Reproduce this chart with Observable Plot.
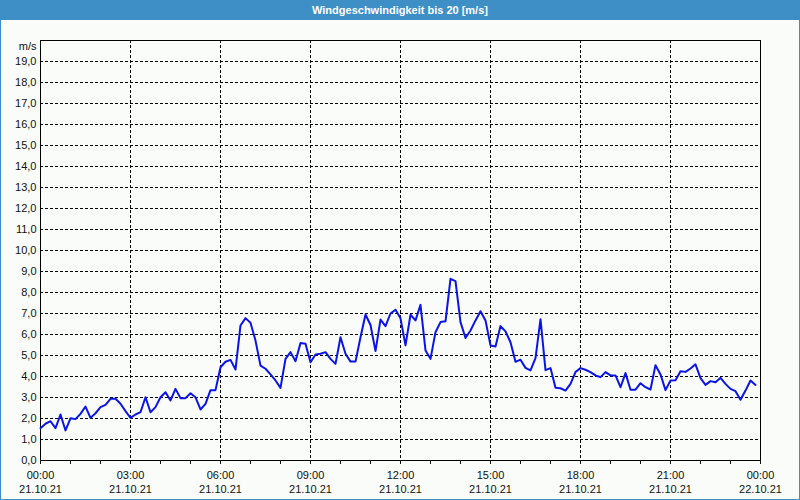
<!DOCTYPE html>
<html><head><meta charset="utf-8">
<script src="https://cdn.jsdelivr.net/npm/d3@7"></script>
<script src="https://cdn.jsdelivr.net/npm/@observablehq/plot@0.6"></script>
<style>
html,body{margin:0;padding:0;background:#fff;}
#wrap{position:relative;width:798px;height:499px;border:1px solid #3d8fc6;border-top:none;background:#f9fcf9;font-family:"Liberation Sans",Arial,sans-serif;overflow:hidden;}
#title{height:20px;line-height:20px;background:#3d8fc6;color:#fff;font-weight:bold;font-size:11px;text-align:center;}
#chart svg{display:block;}
</style></head><body>
<div id="wrap"><div id="title">Windgeschwindigkeit bis 20 [m/s]</div><div id="chart"></div></div>
<script>
// Wind speed readings every 10 minutes, 21.10.21 00:00 – 23:50
const startTime = Date.UTC(2021, 9, 21, 0, 0);
const endTime = Date.UTC(2021, 9, 22, 0, 0);
const stepMinutes = 10;
const windSpeed = [
  1.54, 1.75, 1.87, 1.54, 2.19, 1.43, 2.01, 1.97, 2.22, 2.57, 2.03, 2.25,
  2.54, 2.65, 2.94, 2.94, 2.70, 2.35, 2.03, 2.19, 2.30, 3.01, 2.30, 2.54,
  3.01, 3.25, 2.86, 3.41, 2.97, 2.97, 3.20, 3.01, 2.43, 2.70, 3.35, 3.35,
  4.44, 4.70, 4.79, 4.33, 6.43, 6.78, 6.56, 5.71, 4.52, 4.37, 4.10, 3.81,
  3.46, 4.84, 5.16, 4.73, 5.59, 5.56, 4.68, 5.05, 5.08, 5.16, 4.84, 4.60,
  5.87, 5.08, 4.71, 4.71, 5.87, 6.95, 6.45, 5.21, 6.71, 6.40, 7.00, 7.18,
  6.77, 5.48, 6.94, 6.67, 7.41, 5.24, 4.84, 6.11, 6.59, 6.63, 8.65, 8.54,
  6.59, 5.83, 6.19, 6.67, 7.11, 6.67, 5.48, 5.43, 6.40, 6.15, 5.63, 4.70,
  4.80, 4.41, 4.29, 4.88, 6.73, 4.30, 4.40, 3.46, 3.44, 3.33, 3.65, 4.21,
  4.40, 4.32, 4.21, 4.05, 3.97, 4.21, 4.05, 4.05, 3.49, 4.16, 3.37, 3.37,
  3.68, 3.49, 3.38, 4.54, 4.10, 3.35, 3.81, 3.82, 4.25, 4.22, 4.38, 4.58,
  3.92, 3.60, 3.78, 3.73, 3.94, 3.65, 3.41, 3.30, 2.89, 3.33, 3.81, 3.60
];
const yTicks = [0,1,2,3,4,5,6,7,8,9,10,11,12,13,14,15,16,17,18,19];
const yGrid = [1,2,3,4,5,6,7,8,9,10,11,12,13,14,15,16,17,18,19];
const yUnit = "m/s";
const majorTickHours = [0, 3, 6, 9, 12, 15, 18, 21, 24];
const minorTickHours = [0,1,2,3,4,5,6,7,8,9,10,11,12,13,14,15,16,17,18,19,20,21,22,23,24];
const gridHours = [3, 6, 9, 12, 15, 18, 21];

const hourDate = h => new Date(startTime + h * 3600e3);
const data = windSpeed.map((v, i) => ({time: new Date(startTime + i * stepMinutes * 60e3), v}));
const fmtTime = d3.utcFormat("%H:%M");
const fmtDay = d3.utcFormat("%d.%m.%y");
const dash = "3,2";

const chart = Plot.plot({
  width: 798,
  height: 479,
  marginLeft: 39,
  marginRight: 39,
  marginTop: 20,
  marginBottom: 39,
  style: {fontFamily: '"Liberation Sans", Arial, sans-serif', fontSize: "11px", background: "transparent", color: "#111"},
  x: {type: "utc", domain: [new Date(startTime), new Date(endTime)], label: null},
  y: {domain: [0, 20], label: null},
  marks: [
    Plot.ruleY(yGrid, {stroke: "#000", strokeDasharray: dash, strokeOpacity: 1}),
    Plot.ruleX(gridHours.map(hourDate), {stroke: "#000", strokeDasharray: dash, strokeOpacity: 1}),
    Plot.frame({stroke: "#000", strokeOpacity: 1}),
    Plot.axisY({ticks: yTicks, tickSize: 0, tickPadding: 4, tickFormat: d => d.toFixed(1).replace(".", ","), label: null}),
    Plot.text([yUnit], {frameAnchor: "top-left", textAnchor: "end", dx: -4, dy: 2, fill: "#111"}),
    Plot.axisX({ticks: minorTickHours.map(hourDate), tickSize: 4, tickFormat: () => "", label: null, strokeOpacity: 1}),
    Plot.axisX({ticks: majorTickHours.map(hourDate), tickSize: 0, tickPadding: 8, lineHeight: 1.3,
      tickFormat: d => fmtTime(d) + "\n" + fmtDay(d), label: null}),
    Plot.line(data, {x: "time", y: "v", stroke: "#0a14e6", strokeWidth: 2})
  ]
});
document.getElementById("chart").appendChild(chart);
</script>
</body></html>
